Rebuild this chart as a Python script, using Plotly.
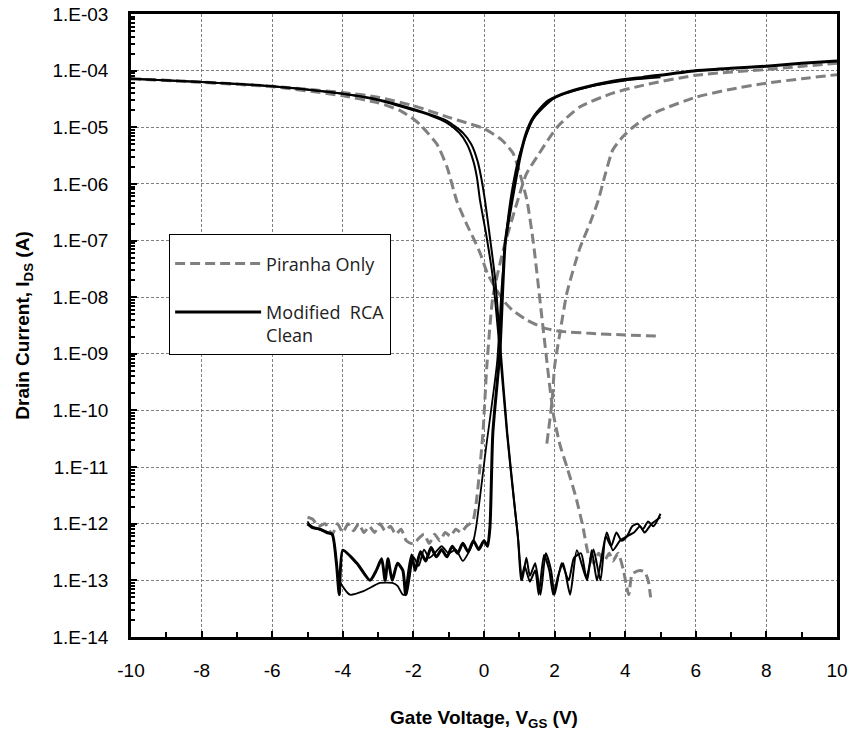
import plotly.graph_objects as go

# ---------------- data ----------------
y_tick_vals = [1e-14, 1e-13, 1e-12, 1e-11, 1e-10, 1e-9, 1e-8, 1e-7, 1e-6, 1e-5, 1e-4, 1e-3]
y_tick_text = ["1.E-14", "1.E-13", "1.E-12", "1.E-11", "1.E-10", "1.E-09",
               "1.E-08", "1.E-07", "1.E-06", "1.E-05", "1.E-04", "1.E-03"]
x_tick_vals = [-10, -8, -6, -4, -2, 0, 2, 4, 6, 8, 10]
x_tick_text = ["-10", "-8", "-6", "-4", "-2", "0", "2", "4", "6", "8", "10"]

# Piranha Only (grey dashed)
g1_x = [-10, -8, -6, -4, -3, -2, -1, -0.5, 0, 0.5, 0.82, 1.02, 1.22, 1.4, 1.67, 1.96, 2.15, 2.35,
        2.6, 2.8, 2.95, 3.1, 3.25, 3.4, 3.55, 3.65, 3.8, 3.95, 4.1, 4.2, 4.42, 4.55, 4.65, 4.72]
g1_y = [7.2e-5, 6.3e-5, 5.3e-5, 4.1e-5, 3.4e-5, 2.4e-5, 1.5e-5, 1.2e-5, 9.5e-6, 6e-6, 3.5e-6, 1.5e-6,
        5e-7, 9e-8, 3e-9, 9e-11, 2.5e-11, 1e-11, 3e-12, 9e-13, 3e-13, 2e-13, 3e-13, 2.2e-13, 3e-13,
        2.2e-13, 3e-13, 1.5e-13, 5.6e-14, 1.3e-13, 1.5e-13, 1.4e-13, 1e-13, 5e-14]

g2_x = [-10, -8, -6, -4, -3, -2.4, -2, -1.8, -1.6, -1.33, -1.05, -0.77, -0.5, -0.3, -0.11, 0.1, 0.37,
        0.6, 0.82, 1.2, 1.67, 2.15, 3, 4, 5]
g2_y = [7.2e-5, 6.2e-5, 5.2e-5, 3.6e-5, 2.7e-5, 2e-5, 1.4e-5, 1.1e-5, 8e-6, 5e-6, 2e-6, 5e-7,
        2e-7, 1.1e-7, 6e-8, 2.6e-8, 1.3e-8, 8e-9, 5.8e-9, 4e-9, 2.9e-9, 2.5e-9, 2.3e-9, 2.15e-9, 2.05e-9]

g3_x = [-5, -4.85, -4.7, -4.5, -4.3, -4.15, -4.0, -3.85, -3.7, -3.55, -3.4, -3.25, -3.1, -2.95, -2.8,
        -2.65, -2.5, -2.35, -2.2, -2.0, -1.85, -1.7, -1.55, -1.4, -1.25, -1.1, -0.95, -0.8, -0.65, -0.5,
        -0.4, -0.3, -0.2, -0.03, 0.08, 0.25, 0.54, 0.95, 1.2, 1.5, 2.07, 2.72, 3.65, 4.5, 6, 8, 10]
g3_y = [1.3e-12, 1.2e-12, 9e-13, 1e-12, 6.5e-13, 1e-12, 7e-13, 1e-12, 7.5e-13, 1e-12, 7e-13, 9e-13,
        7e-13, 1e-12, 7.5e-13, 9e-13, 6.5e-13, 8e-13, 5e-13, 4.4e-13, 5.5e-13, 6.5e-13, 4.5e-13, 6.5e-13,
        5e-13, 7e-13, 6e-13, 8e-13, 7e-13, 9e-13, 1e-12, 1.2e-12, 3e-12, 4e-11, 6e-10, 1e-8, 6.6e-8,
        5e-7, 1.5e-6, 3e-6, 1e-5, 2.3e-5, 4e-5, 5.5e-5, 8.3e-5, 1.05e-4, 1.35e-4]

g5_x = [1.78, 1.93, 2.0, 2.15, 2.35, 2.72, 3.0, 3.23, 3.45, 3.65, 3.95, 4.22, 4.6, 5, 6, 7, 8, 9, 10]
g5_y = [2.6e-11, 1.5e-10, 6e-10, 2.3e-9, 1.2e-8, 7.5e-8, 2e-7, 5e-7, 1.6e-6, 4e-6, 7e-6, 1e-5, 1.5e-5,
        2e-5, 3.4e-5, 4.7e-5, 6e-5, 7.2e-5, 8.5e-5]

# Modified RCA Clean (black solid)
b1_x = [-10, -8, -6, -4, -3, -2, -1.5, -1.05, -0.7, -0.48, -0.3, -0.2, -0.11, 0.07, 0.25, 0.45, 0.65,
        0.85, 0.95, 1.08, 1.2, 1.3, 1.45, 1.6, 1.75, 1.9, 2.0, 2.2, 2.4, 2.55, 2.75, 2.9, 3.1, 3.3, 3.45,
        3.6, 3.75, 3.9, 4.05, 4.2, 4.35, 4.5, 4.65, 4.8, 5.0]
b1_y = [7.2e-5, 6.3e-5, 5.3e-5, 3.9e-5, 3e-5, 2e-5, 1.6e-5, 1.2e-5, 8e-6, 5e-6, 2.5e-6, 1.3e-6, 5e-7,
        1.2e-7, 2.2e-8, 1.1e-9, 4e-11, 2.5e-12, 7e-13, 1e-13, 2.5e-13, 1.2e-13, 2e-13, 5.6e-14, 3e-13,
        1.5e-13, 5.6e-14, 2e-13, 1e-13, 2.5e-13, 3e-13, 1.1e-13, 3.5e-13, 1e-13, 6e-13, 4e-13, 7e-13,
        5e-13, 6e-13, 9e-13, 1e-12, 8e-13, 1.1e-12, 9e-13, 1.5e-12]

b2_x = [-10, -8, -6, -4, -3, -2, -1.05, -0.6, -0.36, -0.18, -0.08, 0.03, 0.18, 0.32, 0.47, 0.66, 0.87,
        0.97, 1.05, 1.15, 1.3, 1.45, 1.55, 1.7, 1.85, 1.96, 2.1, 2.24, 2.44, 2.63, 2.92, 3.05, 3.2, 3.35,
        3.48, 3.65, 3.85, 4.05, 4.25, 4.42, 4.55, 4.75, 5.0]
b2_y = [7.2e-5, 6.3e-5, 5.3e-5, 3.9e-5, 3.1e-5, 2.1e-5, 1.3e-5, 8e-6, 5e-6, 2.5e-6, 1.3e-6, 5e-7, 1e-7,
        2e-8, 1.2e-9, 4e-11, 2e-12, 5e-13, 1e-13, 1.8e-13, 9.5e-14, 1.5e-13, 5.6e-14, 2.8e-13, 1.5e-13,
        5.6e-14, 1.2e-13, 2e-13, 5.6e-14, 3.4e-13, 1e-13, 3.4e-13, 1e-13, 3e-13, 7e-13, 3.4e-13, 5e-13,
        6e-13, 7e-13, 9e-13, 7e-13, 1e-12, 1.3e-12]

b3_x = [-5.0, -4.85, -4.64, -4.45, -4.3, -4.18, -4.1, -4.0, -3.6, -3.23, -3.05, -2.9, -2.8, -2.72, -2.6,
        -2.45, -2.3, -2.22, -2.15, -2.05, -1.95, -1.8, -1.65, -1.5, -1.35, -1.2, -1.05, -0.9, -0.75, -0.6,
        -0.45, -0.3, -0.15, 0.0, 0.1, 0.17, 0.25, 0.45, 0.6, 0.79, 0.9, 1.02, 1.2, 1.4, 1.78, 2.2, 2.7,
        3.65, 4.5, 6, 7, 8, 9, 10]
b3_y = [1e-12, 8.5e-13, 8e-13, 7e-13, 6.5e-13, 2e-13, 5.6e-14, 3.4e-13, 2e-13, 1e-13, 1.5e-13, 2.4e-13,
        1e-13, 2.4e-13, 1e-13, 2e-13, 1.5e-13, 5.6e-14, 1.2e-13, 2.8e-13, 1.5e-13, 3.2e-13, 2.2e-13,
        3.8e-13, 2.6e-13, 3.5e-13, 2.6e-13, 4e-13, 3e-13, 4.5e-13, 3.2e-13, 5e-13, 3.5e-13, 5e-13, 4e-13,
        9e-13, 4e-11, 1.1e-9, 9e-8, 5e-7, 1.2e-6, 3e-6, 8e-6, 1.5e-5, 2.8e-5, 3.8e-5, 4.8e-5, 6.5e-5,
        7.6e-5, 1e-4, 1.1e-4, 1.2e-4, 1.35e-4, 1.48e-4]

b4_x = [-5.0, -4.9, -4.7, -4.45, -4.3, -4.1, -3.8, -3.4, -2.95, -2.6, -2.45, -2.3, -2.2, -2.0, -1.85,
        -1.7, -1.55, -1.4, -1.2, -1.0, -0.8, -0.6, -0.45, -0.3, -0.22, 0.05, 0.37, 0.5, 0.62, 0.78, 1.0,
        1.4, 2.0, 3.0, 4.0, 5.0]
b4_y = [1.1e-12, 9e-13, 8e-13, 7e-13, 6.5e-13, 1e-13, 5.6e-14, 6.5e-14, 9e-14, 9e-14, 8e-14, 5.6e-14,
        5.6e-14, 2.6e-13, 1.8e-13, 3.5e-13, 2.5e-13, 3e-13, 4e-13, 3e-13, 3.5e-13, 2.2e-13, 3e-13, 5e-13,
        9e-13, 2e-11, 7e-10, 1.5e-8, 1.2e-7, 7e-7, 3.2e-6, 1.4e-5, 3.3e-5, 5.2e-5, 6.7e-5, 7.6e-5]

# ---------------- figure ----------------
GREY = "#808080"
fig = go.Figure()

grey_sets = [(g1_x, g1_y), (g2_x, g2_y), (g3_x, g3_y), (g5_x, g5_y)]
for i, (xs, ys) in enumerate(grey_sets):
    fig.add_trace(go.Scatter(
        x=xs, y=ys, mode="lines", name="Piranha Only", legendgroup="p",
        showlegend=(i == 0),
        line=dict(color=GREY, width=3, dash="10px,5px", shape="spline", smoothing=0.6)))

black_sets = [(b1_x, b1_y, 2), (b2_x, b2_y, 2), (b4_x, b4_y, 1.8), (b3_x, b3_y, 3)]
for i, (xs, ys, w) in enumerate(black_sets):
    fig.add_trace(go.Scatter(
        x=xs, y=ys, mode="lines", name="Modified  RCA<br>Clean", legendgroup="m",
        showlegend=(i == 3),
        line=dict(color="black", width=w, shape="spline", smoothing=0.6)))

tick_font = dict(family="Liberation Sans, Arial, sans-serif", size=19, color="black")
title_font = dict(family="Liberation Sans, Arial, sans-serif", size=19, color="black")
minor_y = [m * 10.0 ** e for e in range(-14, -3) for m in range(2, 10)]

fig.update_layout(
    width=853, height=731,
    margin=dict(l=131, r=16, t=14, b=94),
    paper_bgcolor="white", plot_bgcolor="white",
    legend=dict(
        x=0.054, y=0.647, xanchor="left", yanchor="top",
        bgcolor="white", bordercolor="black", borderwidth=1,
        font=dict(family="Open Sans, sans-serif", size=18, color="#222"),
        title=dict(text=" ", font=dict(size=8)),
        valign="top", itemwidth=86, tracegroupgap=22, traceorder="grouped"),
    xaxis=dict(
        range=[-10, 10], zeroline=False, automargin=False,
        tickmode="array", tickvals=x_tick_vals, ticktext=x_tick_text,
        showgrid=True, gridcolor=GREY, gridwidth=1, griddash="3px,2px",
        showline=True, linecolor="black", linewidth=2.5, mirror=True,
        ticks="inside", ticklen=6, tickwidth=2, tickcolor="black",
        minor=dict(tick0=-10, dtick=1, ticks="inside", ticklen=5, tickwidth=2, tickcolor="black",
                   showgrid=False),
        tickfont=tick_font, ticklabelstandoff=14,
        title=dict(text="<b>Gate Voltage, V<sub>GS</sub> (V)</b>", font=title_font, standoff=32)),
    yaxis=dict(
        type="log", range=[-14, -3], zeroline=False, automargin=False,
        tickmode="array", tickvals=y_tick_vals, ticktext=y_tick_text,
        showgrid=True, gridcolor=GREY, gridwidth=1, griddash="3px,2px",
        showline=True, linecolor="black", linewidth=2.5, mirror=True,
        ticks="inside", ticklen=6, tickwidth=2, tickcolor="black",
        minor=dict(tickmode="array", tickvals=minor_y, ticks="inside", ticklen=4, tickwidth=1.5,
                   tickcolor="black", showgrid=False),
        tickfont=tick_font, ticklabelstandoff=16,
        title=dict(text="<b>Drain Current, I<sub>DS</sub> (A)</b>", font=title_font, standoff=18)),
)

fig.write_html("out.html")
